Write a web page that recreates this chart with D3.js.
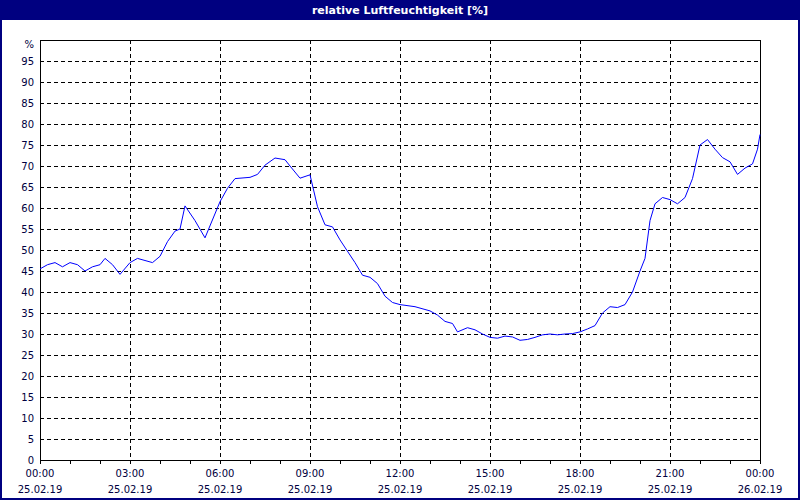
<!DOCTYPE html>
<html><head><meta charset="utf-8">
<script src="https://cdn.jsdelivr.net/npm/d3@7"></script>
<style>body{margin:0;background:#fff}svg{display:block}</style></head>
<body><svg id="c" width="800" height="500"></svg>
<script>
const title = "relative Luftfeuchtigkeit [%]";
const times = [
 "0:00","0:15","0:30","0:45","1:00","1:15","1:30","1:45",
 "2:00","2:10","2:25","2:40","3:00","3:15","3:30","3:45",
 "4:00","4:15","4:30","4:40","4:50","5:10","5:30",
 "6:00","6:15","6:30","7:00","7:15","7:30","7:50",
 "8:10","8:20","8:40","9:00","9:15","9:30","9:45",
 "10:00","10:30","10:45","11:00","11:15","11:30","11:45",
 "12:00","12:30","13:00","13:15","13:30","13:45","13:55",
 "14:15","14:30","14:45","15:00","15:15","15:30","15:45",
 "16:00","16:15","16:30","16:45","17:00","17:15","17:30","17:45",
 "18:00","18:15","18:30","18:45","19:00","19:15","19:30","19:45",
 "20:00","20:10","20:20","20:30","20:45","21:00","21:15","21:30","21:45",
 "22:00","22:15","22:30","22:45","23:00","23:15","23:30","23:45","23:55","24:00"];
const values = [
 45.5,46.5,47,46,47,46.5,45,46,
 46.5,48,46.5,44.2,47,48,47.5,47,
 48.5,52,54.5,55,60.5,57,52.9,
 61.5,64.7,67,67.3,68,70.2,71.9,
 71.5,70,67.1,67.9,60.3,56,55.5,
 52.4,47,44,43.5,42,39,37.5,
 37,36.5,35.5,34.5,33,32.5,30.5,
 31.5,31,30,29.2,29,29.5,29.3,
 28.5,28.7,29.2,29.8,30,29.8,30,30.1,
 30.5,31.2,32,35,36.5,36.3,37,40,
 45,48,57,61,62.5,62,61,62.5,67,
 75,76.3,74,72,71,68,69.5,70.5,74,77.5];
const yTicks = d3.range(0,100,5);
const xTickHours = [0,3,6,9,12,15,18,21,24];
const xTimeLabels = ["00:00","03:00","06:00","09:00","12:00","15:00","18:00","21:00","00:00"];
const xDateLabels = ["25.02.19","25.02.19","25.02.19","25.02.19","25.02.19","25.02.19","25.02.19","25.02.19","26.02.19"];
const hrs = t => { const [h,m] = t.split(":").map(Number); return h + m/60; };
const data = times.map((t,i)=>({x:hrs(t), y:values[i]}));

const svg = d3.select("#c");
const L=40,R=760,T=40,B=460;
const x = d3.scaleLinear().domain([0,24]).range([L,R]);
const y = d3.scaleLinear().domain([0,100]).range([B,T]);
const font = "Tahoma, 'DejaVu Sans', sans-serif";

svg.append("rect").attr("x",0).attr("y",0).attr("width",800).attr("height",500).attr("fill","#000080");
svg.append("rect").attr("x",2).attr("y",20).attr("width",796).attr("height",478).attr("fill","#fff");
svg.append("text").attr("x",400).attr("y",14).attr("text-anchor","middle").attr("fill","#fff")
  .attr("font-family",font).attr("font-size",11).attr("font-weight","bold").text(title);

const g = svg.append("g").attr("shape-rendering","crispEdges");
g.selectAll(".hg").data(yTicks.filter(v=>v>0)).join("line")
  .attr("x1",L).attr("x2",R).attr("y1",d=>Math.round(y(d))+0.5).attr("y2",d=>Math.round(y(d))+0.5)
  .attr("stroke","#000").attr("stroke-dasharray","4,3");
g.selectAll(".vg").data(xTickHours.slice(1,-1)).join("line")
  .attr("y1",T).attr("y2",B).attr("x1",d=>x(d)+0.5).attr("x2",d=>x(d)+0.5)
  .attr("stroke","#000").attr("stroke-dasharray","4,3");
g.append("rect").attr("x",L+0.5).attr("y",T+0.5).attr("width",R-L).attr("height",B-T)
  .attr("fill","none").attr("stroke","#000");

const ya = d3.axisLeft(y).tickValues(yTicks).tickSize(0).tickPadding(6).tickFormat(d3.format("d"));
const ay = svg.append("g").attr("transform",`translate(${L},0)`).call(ya);
ay.select(".domain").remove();
ay.selectAll("text").attr("font-family",font).attr("font-size",10).attr("fill","#000040");
svg.append("text").attr("x",L-6).attr("y",y(99)+4).attr("text-anchor","end")
  .attr("font-family",font).attr("font-size",10).attr("fill","#000040").text("%");

const xa = d3.axisBottom(x).tickValues(d3.range(0,25,1)).tickSize(4).tickFormat("");
const ax = svg.append("g").attr("transform",`translate(0,${B})`).call(xa);
ax.select(".domain").remove();
ax.selectAll("line").attr("stroke","#000").attr("shape-rendering","crispEdges");
xTickHours.forEach((h,i)=>{
  svg.append("text").attr("x",x(h)).attr("y",477).attr("text-anchor","middle")
    .attr("font-family",font).attr("font-size",10).attr("fill","#000040").text(xTimeLabels[i]);
  svg.append("text").attr("x",x(h)).attr("y",493).attr("text-anchor","middle")
    .attr("font-family",font).attr("font-size",10).attr("fill","#000040").text(xDateLabels[i]);
});

svg.append("path").datum(data).attr("fill","none").attr("stroke","#0000ff").attr("stroke-width",1)
  .attr("d",d3.line().x(d=>x(d.x)).y(d=>y(d.y)));
</script></body></html>
